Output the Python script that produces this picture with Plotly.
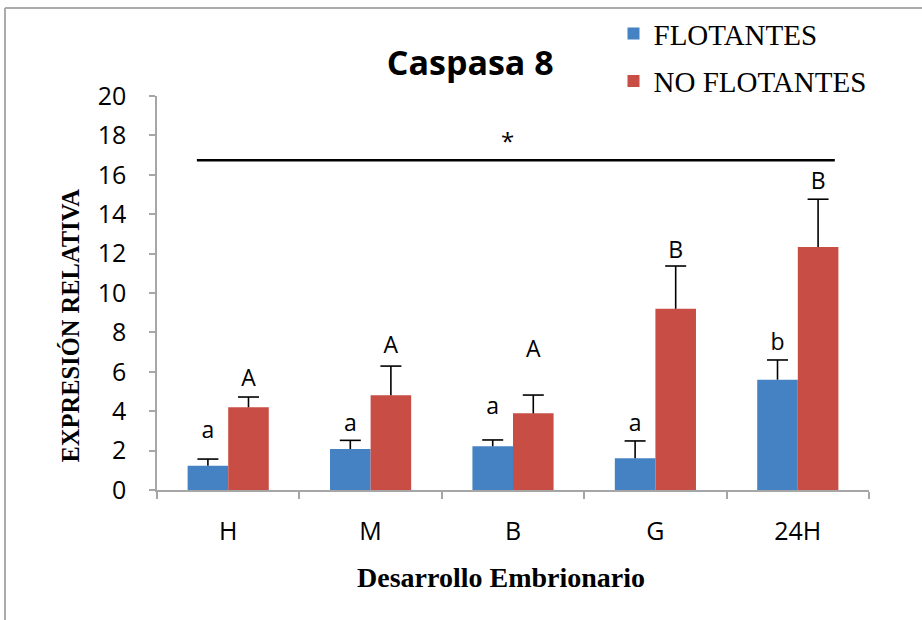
import plotly.graph_objects as go

categories = ["H", "M", "B", "G", "24H"]
series_names = ["FLOTANTES", "NO FLOTANTES"]
flotantes = [1.23, 2.08, 2.22, 1.61, 5.60]
flotantes_err = [0.34, 0.44, 0.32, 0.88, 1.00]
no_flotantes = [4.20, 4.81, 3.89, 9.20, 12.34]
no_flotantes_err = [0.52, 1.48, 0.93, 2.17, 2.42]
letters_f = ["a", "a", "a", "a", "b"]
letters_f_y = [2.94, 3.30, 4.16, 3.27, 7.41]
letters_nf = ["A", "A", "A", "B", "B"]
letters_nf_y = [5.55, 7.24, 7.03, 12.07, 15.58]
y_ticks = [0, 2, 4, 6, 8, 10, 12, 14, 16, 18, 20]
sig_line_y = 16.74
sig_star = "*"

colors = ["#4582C4", "#C84D45"]
GAP = 0.43
AX = "#A6A6A6"
serif = "Liberation Serif, Times New Roman, serif"
sans = "Open Sans, sans-serif"

fig = go.Figure()
vals = [flotantes, no_flotantes]
errs = [flotantes_err, no_flotantes_err]
lets = [letters_f, letters_nf]
lets_y = [letters_f_y, letters_nf_y]

for i in range(2):
    fig.add_trace(go.Bar(
        x=categories, y=vals[i], name=series_names[i],
        marker=dict(color=colors[i], line=dict(width=0)),
        offsetgroup=str(i), legendgroup=str(i),
    ))

for i in range(2):
    tops = [v + e for v, e in zip(vals[i], errs[i])]
    fig.add_trace(go.Scatter(
        x=categories, y=tops, mode="markers", showlegend=False,
        offsetgroup=str(i), hoverinfo="skip",
        marker=dict(symbol="line-ew", size=15, color="black",
                    line=dict(color="black", width=1.6)),
        error_y=dict(type="data", symmetric=False, array=[0] * len(tops),
                     arrayminus=errs[i], width=0, color="black", thickness=1.6),
    ))

for i in range(2):
    fig.add_trace(go.Scatter(
        x=categories, y=lets_y[i], mode="text", text=lets[i],
        textposition="middle center", showlegend=False, hoverinfo="skip",
        offsetgroup=str(i),
        textfont=dict(family=sans, size=23, color="black"),
    ))

fig.add_shape(type="line", xref="x", yref="y", x0=-0.22, x1=4.26,
              y0=sig_line_y, y1=sig_line_y, line=dict(color="black", width=2.5))
fig.add_annotation(x=1.96, y=sig_line_y + 1.0, xref="x", yref="y", text=sig_star,
                   showarrow=False, font=dict(family=sans, size=24, color="black"))

# axis titles placed as in the reference
fig.add_annotation(x=-0.121, y=0.417, xref="paper", yref="paper",
                   text="<b>EXPRESIÓN RELATIVA</b>", textangle=-90, showarrow=False,
                   xanchor="center", yanchor="middle",
                   font=dict(family=serif, size=24.5, color="black"))
fig.add_annotation(x=0.483, y=-0.223, xref="paper", yref="paper",
                   text="<b>Desarrollo Embrionario</b>", showarrow=False,
                   xanchor="center", yanchor="middle",
                   font=dict(family=serif, size=28, color="black"))

# outer frame (left and top)
fig.add_shape(type="line", xref="paper", yref="paper", x0=-0.2135, x1=-0.2135,
              y0=-0.35, y1=1.2234, line=dict(color="#AAAAAA", width=2))
fig.add_shape(type="line", xref="paper", yref="paper", x0=-0.2135, x1=1.1,
              y0=1.2234, y1=1.2234, line=dict(color="#AAAAAA", width=2))

fig.update_layout(
    width=922, height=620,
    margin=dict(l=157, r=53, t=96, b=130, autoexpand=False),
    plot_bgcolor="white", paper_bgcolor="white",
    barmode="group", bargap=GAP, bargroupgap=0,
    scattermode="group", scattergap=GAP,
    title=dict(text="<b>Caspasa 8</b>", x=0.51, xanchor="center", y=0.898,
               yanchor="middle", font=dict(family=sans, size=34, color="black")),
    legend=dict(xref="container", yref="container", x=0.6654, xanchor="left",
                y=0.987, yanchor="top",
                font=dict(family=serif, size=29, color="black"),
                traceorder="grouped", tracegroupgap=7,
                bgcolor="rgba(0,0,0,0)", itemclick=False),
    showlegend=True,
    xaxis=dict(showline=True, linecolor=AX, linewidth=1.5, ticks="outside",
               tickson="boundaries", ticklen=7, tickcolor=AX, tickwidth=1.5,
               showgrid=False, ticklabelstandoff=18,
               tickfont=dict(family=sans, size=25, color="black")),
    yaxis=dict(range=[0, 20], tickvals=y_ticks, showline=True, linecolor=AX,
               linewidth=1.5, ticks="outside", ticklen=6, tickcolor=AX, tickwidth=1.5,
               showgrid=False, zeroline=False, ticklabelstandoff=18,
               tickfont=dict(family=sans, size=25, color="black")),
)

fig.write_html("out.html")
